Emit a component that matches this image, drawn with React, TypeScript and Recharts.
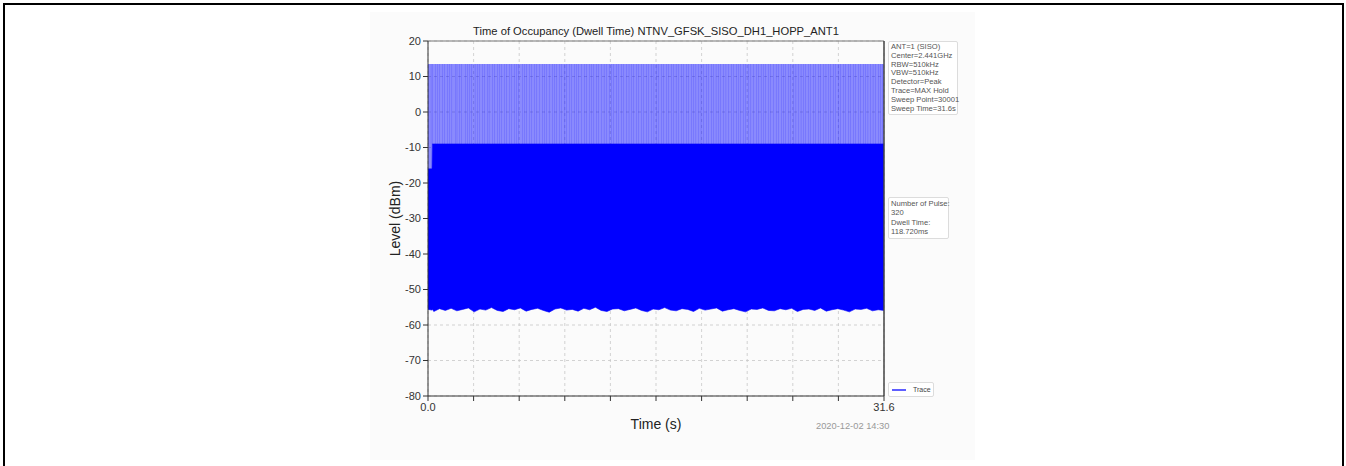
import React from "react";
import { ComposedChart, Area, Bar, XAxis, YAxis, CartesianGrid, Legend, ReferenceLine } from "recharts";

// trace envelope (seconds / dBm)
const binTimes = [0, 0.28, 0.3, 0.4, 0.8, 1.2, 1.6, 2, 2.4, 2.8, 3.2, 3.6, 4, 4.4, 4.8, 5.2, 5.6, 6, 6.4, 6.8, 7.2, 7.6, 8, 8.4, 8.8, 9.2, 9.6, 10, 10.4, 10.8, 11.2, 11.6, 12, 12.4, 12.8, 13.2, 13.6, 14, 14.4, 14.8, 15.2, 15.6, 16, 16.4, 16.8, 17.2, 17.6, 18, 18.4, 18.8, 19.2, 19.6, 20, 20.4, 20.8, 21.2, 21.6, 22, 22.4, 22.8, 23.2, 23.6, 24, 24.4, 24.8, 25.2, 25.6, 26, 26.4, 26.8, 27.2, 27.6, 28, 28.4, 28.8, 29.2, 29.6, 30, 30.4, 30.8, 31.2, 31.6];
const floorLevels = [-55.6, -55.8, -55.5, -56.2, -55.4, -55.9, -55.3, -56.0, -55.6, -55.2, -56.3, -55.5, -55.8, -55.1, -55.9, -56.2, -55.4, -55.7, -55.2, -56.1, -55.6, -55.3, -55.9, -56.4, -55.5, -55.2, -55.8, -55.6, -56.1, -55.3, -55.7, -55.0, -55.9, -56.2, -55.5, -55.4, -56.0, -55.6, -55.2, -55.9, -56.3, -55.5, -55.7, -55.1, -55.8, -56.0, -55.4, -55.6, -56.2, -55.3, -55.8, -55.5, -55.2, -56.1, -55.7, -55.4, -55.9, -56.3, -55.5, -55.6, -55.2, -55.9, -56.0, -55.4, -55.7, -55.3, -56.2, -55.6, -55.5, -55.9, -55.2, -56.1, -55.7, -55.4, -55.8, -56.3, -55.5, -55.6, -55.3, -56.0, -55.7, -55.9];
const leadInEnd = 0.3;
const leadInTop = -16;
const peakLevel = 13.5;
const hopLevel = -9;

// pulses reaching the peak level
const pulseTimes = [0.06, 0.21, 0.33, 0.52, 0.68, 0.81, 1.02, 1.15, 1.37, 1.49, 1.66, 1.88, 2.01, 2.19, 2.35, 2.58, 2.71, 2.9, 3.04, 3.26, 3.41, 3.55, 3.77, 3.92, 4.1, 4.23, 4.45, 4.6, 4.79, 4.93, 5.12, 5.3, 5.44, 5.67, 5.81, 5.98, 6.16, 6.3, 6.52, 6.69, 6.83, 7.05, 7.2, 7.36, 7.55, 7.7, 7.91, 8.06, 8.24, 8.39, 8.6, 8.74, 8.93, 9.1, 9.27, 9.45, 9.58, 9.8, 9.95, 10.13, 10.3, 10.44, 10.66, 10.82, 10.97, 11.18, 11.33, 11.5, 11.69, 11.84, 12.03, 12.2, 12.35, 12.56, 12.7, 12.88, 13.06, 13.22, 13.41, 13.57, 13.74, 13.93, 14.08, 14.27, 14.44, 14.6, 14.8, 14.95, 15.13, 15.3, 15.47, 15.66, 15.81, 16.0, 16.17, 16.33, 16.52, 16.68, 16.85, 17.04, 17.19, 17.38, 17.55, 17.71, 17.9, 18.06, 18.24, 18.41, 18.57, 18.77, 18.92, 19.1, 19.28, 19.43, 19.63, 19.79, 19.96, 20.14, 20.3, 20.49, 20.65, 20.82, 21.01, 21.16, 21.35, 21.52, 21.68, 21.87, 22.03, 22.21, 22.38, 22.55, 22.74, 22.89, 23.08, 23.25, 23.41, 23.6, 23.76, 23.94, 24.12, 24.28, 24.47, 24.63, 24.8, 24.99, 25.14, 25.33, 25.5, 25.66, 25.85, 26.01, 26.19, 26.36, 26.52, 26.71, 26.87, 27.05, 27.23, 27.39, 27.58, 27.74, 27.91, 28.1, 28.25, 28.44, 28.61, 28.77, 28.96, 29.12, 29.3, 29.47, 29.63, 29.82, 29.98, 30.16, 30.33, 30.49, 30.68, 30.84, 31.02, 31.19, 31.36, 31.52];

const yTicks = [20, 10, 0, -10, -20, -30, -40, -50, -60, -70, -80];
const xTicks = [0, 3.16, 6.32, 9.48, 12.64, 15.8, 18.96, 22.12, 25.28, 28.44, 31.6];
const xLabelled = [0, 31.6];

const setupLines = ["ANT=1 (SISO)", "Center=2.441GHz", "RBW=510kHz", "VBW=510kHz", "Detector=Peak", "Trace=MAX Hold", "Sweep Point=30001", "Sweep Time=31.6s"];
const resultLines = ["Number of Pulse:", "320", "Dwell Time:", "118.720ms"];

const FONT = "'Liberation Sans', Arial, sans-serif";
const BLUE = "#0000ff";

const envelope = binTimes.map((t, i) => {
  const top = t < leadInEnd ? leadInTop : hopLevel;
  return { t, body: [floorLevels[i], top], upper: [top, peakLevel] };
});
const pulses = pulseTimes.map(t => ({ t, span: [hopLevel, peakLevel] }));

const boxStyle: React.CSSProperties = {
  position: "absolute",
  left: 888,
  background: "#fff",
  border: "1px solid #dcdcdc",
  borderRadius: 2,
  padding: "1px 2px",
  fontSize: 7.6,
  lineHeight: "8.8px",
  color: "#555",
  fontFamily: FONT,
  whiteSpace: "nowrap",
};

const LegendBox = () => (
  <div style={{ display: "flex", alignItems: "center", background: "#fff", border: "1px solid #dcdcdc", borderRadius: 2, width: 44, height: 13, fontFamily: FONT, fontSize: 7, color: "#444" }}>
    <svg width={14} height={4} style={{ margin: "0 7px 0 3px" }}>
      <line x1={0} y1={2} x2={14} y2={2} stroke="#2a2aff" strokeWidth={1.5} />
    </svg>
    Trace
  </div>
);

export default function App() {
  return (
    <div style={{ position: "absolute", left: 0, top: 0, width: 1346, height: 466, overflow: "hidden", background: "#fff" }}>
      <div style={{ position: "absolute", left: 3, top: 3, width: 1337, height: 480, border: "2px solid #000" }} />
      <div style={{ position: "absolute", left: 370, top: 12, width: 605, height: 448, background: "#fbfbfb" }} />

      <div style={{ position: "absolute", left: 428, width: 456, top: 25, textAlign: "center", fontFamily: FONT, fontSize: 11.2, color: "#222" }}>
        Time of Occupancy (Dwell Time) NTNV_GFSK_SISO_DH1_HOPP_ANT1
      </div>

      <div style={{ position: "absolute", left: 370, top: 10 }}>
        <ComposedChart
          width={605}
          height={450}
          data={pulses}
          margin={{ top: 31, right: 91, left: 18, bottom: 34 }}
          style={{ fontFamily: FONT }}
        >
          <CartesianGrid stroke="#c8c8c8" strokeDasharray="3 3" strokeWidth={0.8} horizontalValues={yTicks} verticalValues={xTicks} />
          <XAxis
            dataKey="t"
            type="number"
            domain={[0, 31.6]}
            ticks={xTicks}
            tickFormatter={v => (xLabelled.includes(v) ? v.toFixed(1) : "")}
            height={30}
            stroke="#333"
            tickSize={5}
            tick={{ fontSize: 11, fill: "#333" }}
            label={({ viewBox }: any) => (
              <text x={viewBox.x + viewBox.width / 2} y={viewBox.y + 33} textAnchor="middle" fontSize={14} fill="#222" fontFamily={FONT}>
                Time (s)
              </text>
            )}
          />
          <YAxis
            type="number"
            domain={[-80, 20]}
            ticks={yTicks}
            width={40}
            stroke="#333"
            tickSize={5}
            tick={{ fontSize: 11, fill: "#333" }}
            label={({ viewBox }: any) => {
              const cx = viewBox.x + 7;
              const cy = viewBox.y + viewBox.height / 2;
              return (
                <text x={cx} y={cy} transform={`rotate(-90 ${cx} ${cy})`} textAnchor="middle" dominantBaseline="central" fontSize={14} fill="#222" fontFamily={FONT}>
                  Level (dBm)
                </text>
              );
            }}
          />
          <Area data={envelope} dataKey="upper" type="linear" fill={BLUE} fillOpacity={0.45} stroke="none" isAnimationActive={false} />
          <Area data={envelope} dataKey="body" type="linear" fill={BLUE} fillOpacity={1} stroke={BLUE} strokeWidth={0.6} isAnimationActive={false} />
          <Bar dataKey="span" fill={BLUE} barSize={1} isAnimationActive={false} />
          <ReferenceLine y={20} stroke="#777" strokeWidth={1.2} />
          <ReferenceLine x={31.6} stroke="#444" strokeWidth={1.5} />
          <Legend
            layout="horizontal"
            verticalAlign="middle"
            align="center"
            content={() => <LegendBox />}
            wrapperStyle={{ position: "absolute", left: 518, top: 372, width: 46 }}
          />
        </ComposedChart>
      </div>

      <div style={{ ...boxStyle, top: 41, width: 64 }}>
        {setupLines.map(s => <div key={s}>{s}</div>)}
      </div>
      <div style={{ ...boxStyle, top: 197, width: 55, lineHeight: "9.4px" }}>
        {resultLines.map(s => <div key={s}>{s}</div>)}
      </div>

      <div style={{ position: "absolute", left: 816, top: 421, fontFamily: FONT, fontSize: 9.3, color: "#999" }}>
        2020-12-02 14:30
      </div>
    </div>
  );
}
